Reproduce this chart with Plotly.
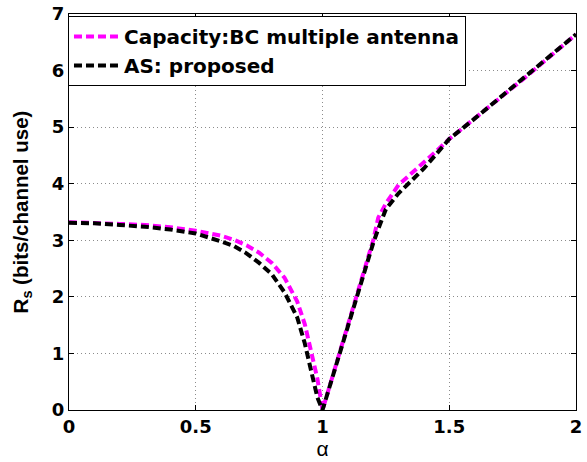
import plotly.graph_objects as go

alpha = [0, 0.1, 0.2, 0.3, 0.4, 0.5, 0.6, 0.65, 0.7, 0.75, 0.8, 0.85, 0.9, 0.93, 0.96, 0.98, 1.0,
         1.05, 1.1, 1.15, 1.2, 1.22, 1.25, 1.3, 1.35, 1.4, 1.45, 1.5, 1.6, 1.7, 1.8, 1.9, 2.0]

capacity_bc = [3.32, 3.31, 3.29, 3.27, 3.23, 3.17, 3.08, 3.01, 2.91, 2.78, 2.60, 2.34, 1.92, 1.52, 0.98, 0.55, 0.0,
               0.75, 1.50, 2.25, 3.00, 3.40, 3.65, 3.98, 4.18, 4.36, 4.58, 4.79, 5.15, 5.52, 5.88, 6.26, 6.64]

as_proposed = [3.31, 3.30, 3.27, 3.24, 3.19, 3.12, 2.98, 2.90, 2.77, 2.60, 2.40, 2.08, 1.64, 1.18, 0.60, 0.22, 0.0,
               0.75, 1.50, 2.25, 2.95, 3.20, 3.55, 3.83, 4.06, 4.27, 4.53, 4.79, 5.15, 5.52, 5.88, 6.26, 6.64]

x_ticks = [0, 0.5, 1, 1.5, 2]
x_tick_labels = ["0", "0.5", "1", "1.5", "2"]
y_ticks = [0, 1, 2, 3, 4, 5, 6, 7]

WIDE = "DejaVu Sans, Liberation Sans, sans-serif"
FONT = "Liberation Sans, Arial, sans-serif"

fig = go.Figure()
fig.add_trace(go.Scatter(x=alpha, y=capacity_bc, mode="lines",
                         name="Capacity:BC multiple antenna", legendgroup="a",
                         line=dict(color="#FF00FF", width=4, dash="8px,4px")))
fig.add_trace(go.Scatter(x=alpha, y=as_proposed, mode="lines",
                         name="AS: proposed", legendgroup="b",
                         line=dict(color="#000000", width=4, dash="8px,4px")))

tickfont = dict(family=WIDE, size=18, color="black", weight="bold")

fig.update_layout(
    width=587, height=462,
    margin=dict(l=69, r=11, t=14, b=52, autoexpand=False),
    paper_bgcolor="white", plot_bgcolor="white",
    showlegend=True,
    legend=dict(x=-0.002, y=0.995, xanchor="left", yanchor="top",
                bgcolor="white", bordercolor="black", borderwidth=1,
                font=dict(family=WIDE, size=20, color="black", weight="bold"),
                tracegroupgap=0, itemwidth=45),
    xaxis=dict(range=[0, 2], tickvals=x_ticks, ticktext=x_tick_labels, automargin=False,
               showline=True, linecolor="black", linewidth=1, mirror="ticks",
               ticks="inside", ticklen=5, tickcolor="black",
               showgrid=True, gridcolor="#8c8c8c", griddash="1px,3px", gridwidth=1,
               zeroline=False, tickfont=tickfont,
               title=dict(text="α", font=dict(family=FONT, size=21, color="black"),
                          standoff=4)),
    yaxis=dict(range=[0, 7], tickvals=y_ticks, automargin=False,
               showline=True, linecolor="black", linewidth=1, mirror="ticks",
               ticks="inside", ticklen=5, tickcolor="black",
               showgrid=True, gridcolor="#8c8c8c", griddash="1px,3px", gridwidth=1,
               zeroline=False, tickfont=tickfont,
               title=dict(text="R<sub>s</sub> (bits/channel use)",
                          font=dict(family=FONT, size=20.5, color="black", weight="bold"),
                          standoff=17)),
)

fig.write_html("out.html", config={"displayModeBar": False},
               post_script="document.body.style.margin='0';")
